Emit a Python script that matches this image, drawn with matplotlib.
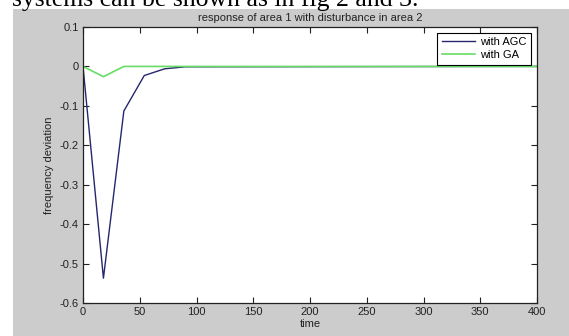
import numpy as np
import matplotlib
matplotlib.use('Agg')
import matplotlib.pyplot as plt
from matplotlib.patches import Rectangle

# values
t = [0, 18, 36, 54, 72, 90, 400]
agc = [0, -0.537, -0.113, -0.023, -0.006, -0.001, 0]
ga = [0, -0.026, 0, 0, 0, 0, 0]
xticks = [0, 50, 100, 150, 200, 250, 300, 350, 400]
yticks = [0.1, 0, -0.1, -0.2, -0.3, -0.4, -0.5, -0.6]

plt.rcParams['font.family'] = ['Liberation Sans', 'DejaVu Sans']

W, H = 569, 336
fig = plt.figure(figsize=(W/100, H/100), dpi=100)
fig.patch.set_facecolor('white')

# matlab grey figure window
fig.patches.append(Rectangle((13/W, 0), 1, (H-9)/H, transform=fig.transFigure,
                             facecolor='#cccccc', edgecolor='none', zorder=-5))
# cut off line of text from the page above
fig.text(12/W, 1 - 6/H, 'systems can be shown as in fig 2 and 3.',
         family='Liberation Serif', fontsize=18.5, va='baseline', color='black')

ax = fig.add_axes([83/W, 1 - 303/H, (537-83)/W, (303-27)/H])
ax.set_zorder(2)
ax.set_facecolor('white')
ax.plot(t, agc, color='#26266e', lw=1.0, label='with AGC')
ax.plot(t, ga, color='#66dd66', lw=1.2, label='with GA')

ax.set_xlim(0, 400)
ax.set_ylim(-0.6, 0.1)
ax.set_xticks(xticks)
ax.set_yticks(yticks)
ax.set_yticklabels(['0.1', '0', '-0.1', '-0.2', '-0.3', '-0.4', '-0.5', '-0.6'])
ax.tick_params(direction='in', length=4, width=0.8, top=True, right=True,
               labelsize=8, colors='#222222', pad=3)
for s in ax.spines.values():
    s.set_linewidth(0.9)
    s.set_color('#222222')

ax.set_title('response of area 1 with disturbance in area 2', fontsize=8, pad=4, color='#222222')
ax.set_xlabel('time', fontsize=8, labelpad=1, color='#222222')
ax.set_ylabel('frequency deviation', fontsize=8, labelpad=4, color='#222222')

leg = ax.legend(loc='upper right', fontsize=8, fancybox=False, framealpha=1,
                edgecolor='black', handlelength=3, borderaxespad=0.5,
                borderpad=0.4, labelspacing=0.3, handletextpad=0.5)
leg.get_frame().set_linewidth(0.8)

fig.savefig('out.png', dpi=100)
